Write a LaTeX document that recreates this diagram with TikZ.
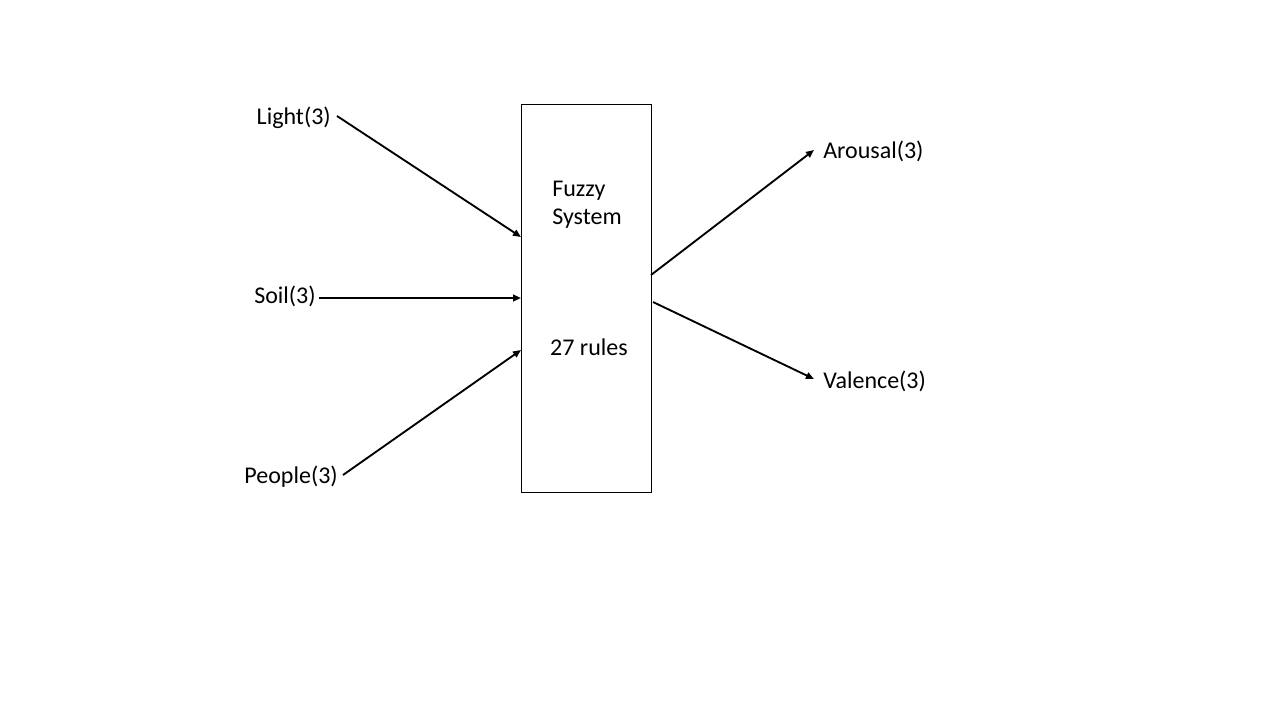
\documentclass[tikz,border=0pt]{standalone}
\usepackage{fontspec}
\setmainfont{Carlito}
\usetikzlibrary{arrows.meta}
\begin{document}
\begin{tikzpicture}[x=0.75pt,y=-0.75pt,
  lbl/.style={inner sep=0pt,font=\fontsize{18}{21}\selectfont},
  conn/.style={line width=1.4pt,-{Triangle[length=6pt,width=5pt]}},
  sysbox/.style={draw,line width=0.75pt,minimum width=97.5pt,minimum height=290.25pt,inner sep=0pt}]
\useasboundingbox (0,0) rectangle (1280,720);
\fill[white] (0,0) rectangle (1280,720);
\node[sysbox] (box) at (586,298.5) {};
\node[lbl,anchor=west,align=left] (fuzzy) at (552,205) {Fuzzy\\System};
\node[lbl] (rules) at (589,347) {27 rules};
\node[lbl,anchor=east] (light) at (331,117.5) {Light(3)};
\node[lbl,anchor=east] (soil) at (316,296) {Soil(3)};
\node[lbl,anchor=east] (people) at (338,476.5) {People(3)};
\node[lbl,anchor=west] (arousal) at (823,151) {Arousal(3)};
\node[lbl,anchor=west] (valence) at (823,381) {Valence(3)};
\coordinate (lightS) at (337,116);
\coordinate (soilS) at (319,298);
\coordinate (peopleS) at (343,475);
\coordinate (lightE) at (521,237);
\coordinate (soilE) at (521,298);
\coordinate (peopleE) at (521,350);
\coordinate (arS) at (651,275);
\coordinate (vaS) at (653,302);
\coordinate (arE) at (814,150);
\coordinate (vaE) at (814,379);
\draw[conn] (lightS) -- (lightE);
\draw[conn] (soilS) -- (soilE);
\draw[conn] (peopleS) -- (peopleE);
\draw[conn] (arS) -- (arE);
\draw[conn] (vaS) -- (vaE);
\end{tikzpicture}
\end{document}
